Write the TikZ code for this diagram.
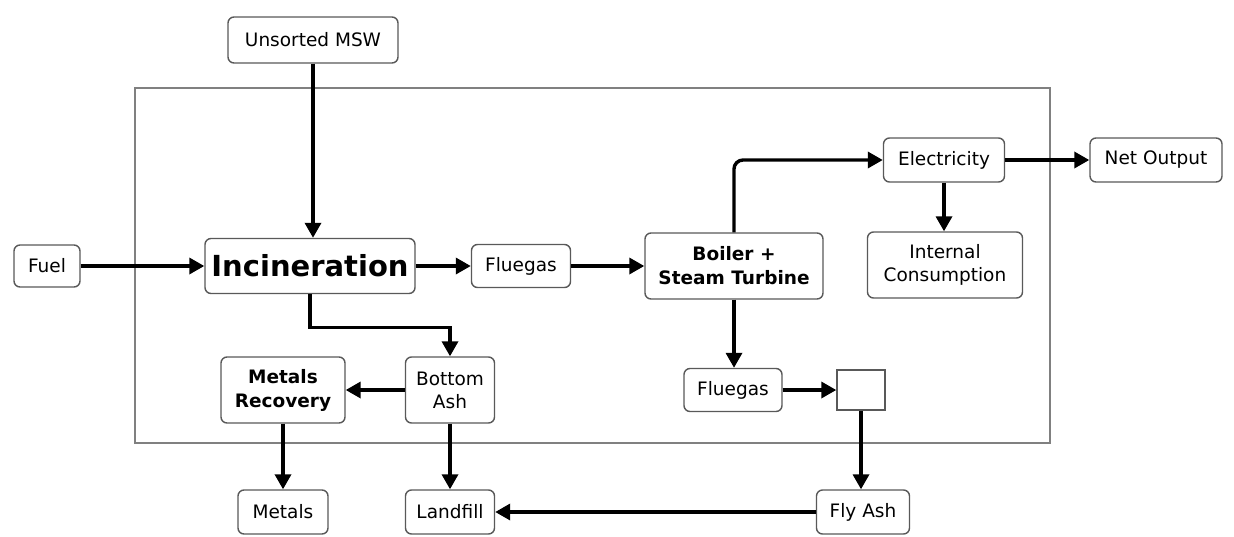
\documentclass[tikz,border=0pt]{standalone}
\usepackage{fontspec}
\setmainfont{DejaVu Sans}
\usetikzlibrary{arrows.meta}
\begin{document}
\begin{tikzpicture}[x=1pt,y=-1pt,
 unit/.style={shape=rectangle,rounded corners=6,draw=black!65,line width=1.4,fill=white,align=center,inner sep=0,font=\fontsize{18.5}{23}\selectfont},
 unitB/.style={unit,font=\fontsize{18.5}{24}\bfseries},
 flow/.style={line width=3.4,-{Triangle[length=15,width=16]}}]
\useasboundingbox (0,0) rectangle (1234,536);

\draw[black!50,line width=1.8] (135,88) rectangle (1050,443);

\node[unit,minimum width=170,minimum height=46] (MSW) at (313,40) {Unsorted MSW};
\node[unit,minimum width=66,minimum height=42] (F) at (47,266) {Fuel};
\node[unit,minimum width=210,minimum height=55,font=\fontsize{29}{34}\bfseries] (I) at (310,266) {Incineration};
\node[unit,minimum width=99,minimum height=43] (FG) at (521,266) {Fluegas};
\node[unitB,minimum width=178,minimum height=66] (B) at (734,266) {Boiler +\\Steam Turbine};
\node[unit,minimum width=121,minimum height=44] (E) at (944,160) {Electricity};
\node[unit,minimum width=132,minimum height=44] (NO) at (1156,160) {Net Output};
\node[unit,minimum width=155,minimum height=66] (IC) at (945,265) {Internal\\Consumption};

\node[unit,minimum width=89,minimum height=66] (BA) at (450,390) {Bottom\\Ash};
\node[unitB,minimum width=124,minimum height=66] (MR) at (283,390) {Metals\\Recovery};
\node[unit,minimum width=98,minimum height=43] (FG2) at (733,390) {Fluegas};
\node[shape=rectangle,draw=black!65,line width=1.4,minimum width=48,minimum height=40] (Sq) at (861,390) {};

\node[unit,minimum width=90,minimum height=44] (Me) at (283,512) {Metals};
\node[unit,minimum width=89,minimum height=44] (L) at (450,512) {Landfill};
\node[unit,minimum width=93,minimum height=44] (FA) at (863,512) {Fly Ash};

\draw[flow] (MSW.south) -- (MSW.south |- I.north);
\draw[flow] (F.east) -- (I.west);
\draw[flow] (I.east) -- (FG.west);
\draw[flow] (FG.east) -- (B.west);
\draw[flow,rounded corners=9] (B.north) |- (E.west);
\draw[flow] (E.east) -- (NO.west);
\draw[flow] (E.south) -- (E.south |- IC.north);

\draw[flow] (I.south) -- ++(0,33) -| (BA.north);
\draw[flow] (BA.west) -- (MR.east);
\draw[flow] (MR.south) -- (Me.north);
\draw[flow] (BA.south) -- (L.north);
\draw[flow] (B.south) -- (B.south |- FG2.north);
\draw[flow] (FG2.east) -- (Sq.west);
\draw[flow] (Sq.south) -- (Sq.south |- FA.north);
\draw[flow] (FA.west) -- (L.east);
\end{tikzpicture}
\end{document}
